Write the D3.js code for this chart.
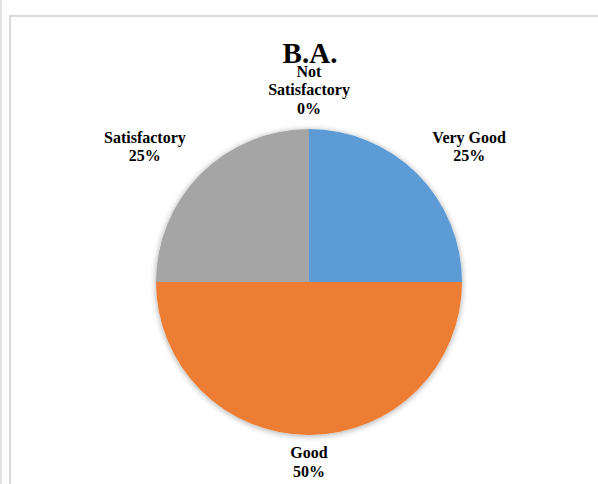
<!DOCTYPE html>
<html>
<head>
<meta charset="utf-8">
<script src="https://cdn.jsdelivr.net/npm/d3@7/dist/d3.min.js"></script>
<style>
  html, body { margin: 0; padding: 0; background: #fff; }
</style>
</head>
<body>
<div class="chart"></div>
<script>
var categories = ["Very Good", "Good", "Satisfactory", "Not Satisfactory"];
var values = [25, 50, 25, 0];
var colors = ["#5B9BD5", "#ED7D31", "#A5A5A5", "#FFC000"];
var title = "B.A.";

var width = 598, height = 484;
var cx = 309, cy = 282, radius = 153;

var svg = d3.select(".chart")
    .append("svg")
    .attr("width", width)
    .attr("height", height)
    .style("display", "block");

// frame lines of the surrounding sheet
svg.append("line").attr("x1", 1).attr("y1", 0).attr("x2", 1).attr("y2", height)
    .attr("stroke", "#e3e3e3").attr("stroke-width", 2);
svg.append("line").attr("x1", 10).attr("y1", 15).attr("x2", 10).attr("y2", height)
    .attr("stroke", "#d9d9d9").attr("stroke-width", 2);
svg.append("line").attr("x1", 9).attr("y1", 16).attr("x2", 598).attr("y2", 16)
    .attr("stroke", "#d9d9d9").attr("stroke-width", 2);

var defs = svg.append("defs");
var f = defs.append("filter").attr("id", "shadow")
    .attr("x", "-20%").attr("y", "-20%").attr("width", "140%").attr("height", "140%");
f.append("feGaussianBlur").attr("in", "SourceAlpha").attr("stdDeviation", 3).attr("result", "blur");
f.append("feOffset").attr("in", "blur").attr("dx", 0).attr("dy", 1).attr("result", "off");
f.append("feComponentTransfer").attr("in", "off").attr("result", "soft")
    .append("feFuncA").attr("type", "linear").attr("slope", 0.35);
var merge = f.append("feMerge");
merge.append("feMergeNode").attr("in", "soft");
merge.append("feMergeNode").attr("in", "SourceGraphic");

var data = categories.map(function(c, i) { return { name: c, value: values[i], color: colors[i] }; });

var pie = d3.pie()
    .sort(null)
    .value(function(d) { return d.value; });

var arc = d3.arc().innerRadius(0).outerRadius(radius);

var arcs = pie(data);

var g = svg.append("g")
    .attr("transform", "translate(" + cx + "," + cy + ")");

g.append("g").attr("filter", "url(#shadow)")
    .selectAll("path")
    .data(arcs.filter(function(d) { return d.value > 0; }))
    .enter()
    .append("path")
    .attr("d", arc)
    .attr("fill", function(d) { return d.data.color; });

// title
svg.append("text")
    .attr("x", cx + 1)
    .attr("y", 63)
    .attr("text-anchor", "middle")
    .attr("font-family", "Liberation Serif, Times New Roman, serif")
    .attr("font-weight", "bold")
    .attr("font-size", 29)
    .attr("fill", "#000")
    .text(title);

// labels, outside end
var fontSize = 16, lineH = 18.5;
var labelR = radius + 10;

arcs.forEach(function(d) {
    var lines;
    if (d.data.name === "Not Satisfactory") lines = ["Not", "Satisfactory"];
    else lines = [d.data.name];
    lines.push(d3.format(".0%")(d.data.value / d3.sum(values)));

    var ang = (d.startAngle + d.endAngle) / 2;
    var s = Math.sin(ang), c = Math.cos(ang);
    var px = labelR * s, py = -labelR * c;

    var t = g.append("text")
        .attr("text-anchor", "middle")
        .attr("font-family", "Liberation Serif, Times New Roman, serif")
        .attr("font-weight", "bold")
        .attr("font-size", fontSize)
        .attr("fill", "#000");
    lines.forEach(function(l) {
        t.append("tspan").attr("x", 0).attr("dy", 0).text(l);
    });
    var w = t.node().getBBox().width;
    var h = lines.length * lineH;
    var lx = px + (Math.abs(s) < 0.01 ? 0 : Math.sign(s) * (w / 2 + 8));
    var top = py + (Math.abs(c) < 0.01 ? -h / 2 : (c > 0 ? -h : 0));
    t.selectAll("tspan")
        .attr("x", lx)
        .attr("y", function(l, i) { return top + 13 + i * lineH; });
});
</script>
</body>
</html>
